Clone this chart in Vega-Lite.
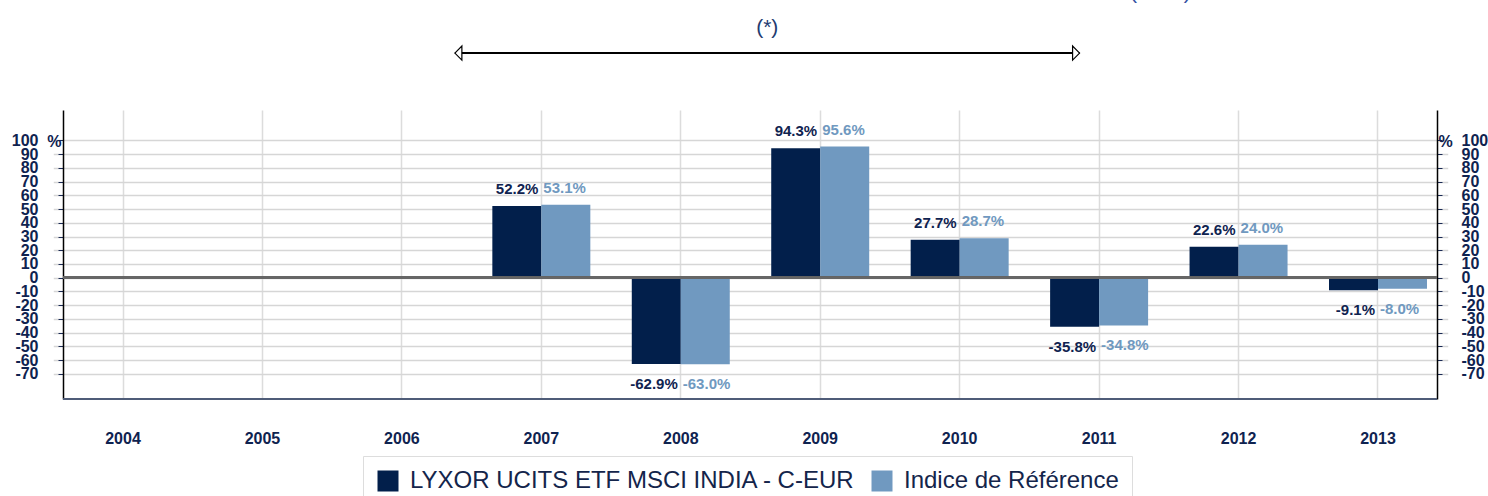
{
  "$schema": "https://vega.github.io/schema/vega-lite/v6.json",
  "width": 1374,
  "height": 289,
  "autosize": {"type": "none"},
  "padding": {"left": 63, "top": 110, "right": 51, "bottom": 97},
  "background": "#ffffff",
  "config": {
    "view": {"stroke": null},
    "font": "Liberation Sans"
  },
  "datasets": {
    "returns": [
      {"year": "2007", "series": "LYXOR UCITS ETF MSCI INDIA - C-EUR", "value": 52.2},
      {"year": "2007", "series": "Indice de Référence", "value": 53.1},
      {"year": "2008", "series": "LYXOR UCITS ETF MSCI INDIA - C-EUR", "value": -62.9},
      {"year": "2008", "series": "Indice de Référence", "value": -63.0},
      {"year": "2009", "series": "LYXOR UCITS ETF MSCI INDIA - C-EUR", "value": 94.3},
      {"year": "2009", "series": "Indice de Référence", "value": 95.6},
      {"year": "2010", "series": "LYXOR UCITS ETF MSCI INDIA - C-EUR", "value": 27.7},
      {"year": "2010", "series": "Indice de Référence", "value": 28.7},
      {"year": "2011", "series": "LYXOR UCITS ETF MSCI INDIA - C-EUR", "value": -35.8},
      {"year": "2011", "series": "Indice de Référence", "value": -34.8},
      {"year": "2012", "series": "LYXOR UCITS ETF MSCI INDIA - C-EUR", "value": 22.6},
      {"year": "2012", "series": "Indice de Référence", "value": 24.0},
      {"year": "2013", "series": "LYXOR UCITS ETF MSCI INDIA - C-EUR", "value": -9.1},
      {"year": "2013", "series": "Indice de Référence", "value": -8.0}
    ],
    "arrow": [{"start": 2006.38, "end": 2010.86, "level": 163.7}],
    "notes": [
      {"pos": 2008.62, "level": 182, "text": "(*)", "kind": "star"},
      {"pos": 2011.44, "level": 203, "text": "(2013)", "kind": "cut"}
    ]
  },
  "resolve": {"scale": {"x": "independent"}, "axis": {"x": "independent", "y": "independent"}},
  "layer": [
    {
      "data": {"name": "returns"},
      "transform": [{"calculate": "(datum.value < 0 ? '-' : '') + format(abs(datum.value), '.1f') + '%'", "as": "label"}],
      "resolve": {"axis": {"y": "independent"}},
      "layer": [
        {
          "mark": {"type": "bar"},
          "encoding": {
            "x": {
              "field": "year", "type": "nominal",
              "scale": {"domain": ["2004","2005","2006","2007","2008","2009","2010","2011","2012","2013"], "range": [-9.72, 1384.72], "paddingInner": 0, "paddingOuter": 0},
              "axis": {"title": null, "domain": false, "ticks": false, "labelAngle": 0, "labelFontSize": 16, "labelFontWeight": "bold", "labelColor": "#0f2350", "labelPadding": 31, "grid": true, "gridColor": "#dcdcdc", "gridWidth": 1.5, "bandPosition": 0.5}
            },
            "xOffset": {
              "field": "series", "type": "nominal",
              "scale": {"domain": ["LYXOR UCITS ETF MSCI INDIA - C-EUR", "Indice de Référence"], "paddingInner": 0, "paddingOuter": 0.423}
            },
            "y": {
              "field": "value", "type": "quantitative",
              "scale": {"domain": [-88.4, 122.2], "nice": false, "zero": false},
              "axis": {"title": "%", "titleAngle": 0, "titleAlign": "right", "titleBaseline": "middle", "titleX": -2, "titleY": 31, "titleFontSize": 16, "titleFontWeight": "bold", "titleColor": "#0f2350", "values": [-70,-60,-50,-40,-30,-20,-10,0,10,20,30,40,50,60,70,80,90,100], "labelExpr": "'' + datum.value", "labelFontSize": 16, "labelFontWeight": "bold", "labelColor": "#0f2350", "labelPadding": 20, "tickSize": 5, "tickColor": "#1a2a55", "domainColor": "#000000", "domainWidth": 1.5, "grid": true, "gridColor": "#d6d6d6", "gridWidth": 1.5, "labelOverlap": false, "labelBound": false, "labelFlush": false}
            },
            "color": {
              "field": "series", "type": "nominal",
              "scale": {"domain": ["LYXOR UCITS ETF MSCI INDIA - C-EUR", "Indice de Référence"], "range": ["#021f4b", "#7099c0"]},
              "legend": {"orient": "none", "legendX": 300, "legendY": 346, "direction": "horizontal", "title": null, "symbolType": "square", "symbolSize": 441, "symbolStrokeWidth": 0, "symbolOpacity": 1, "labelFont": "Liberation Sans", "labelFontSize": 24, "labelColor": "#14254b", "labelOffset": 10, "columnPadding": 15, "padding": 13, "strokeColor": "#dddddd", "labelLimit": 0}
            }
          }
        },
        {
          "transform": [{"filter": "datum.series == 'LYXOR UCITS ETF MSCI INDIA - C-EUR' && datum.value >= 0"}],
          "mark": {"type": "text", "align": "right", "baseline": "middle", "dx": -3, "dy": -17, "fontSize": 15, "fontWeight": "bold", "color": "#0f2350"},
          "encoding": {
            "x": {"field": "year", "type": "nominal", "scale": {"domain": ["2004","2005","2006","2007","2008","2009","2010","2011","2012","2013"], "range": [-9.72, 1384.72], "paddingInner": 0, "paddingOuter": 0}},
            "y": {"field": "value", "type": "quantitative", "scale": {"domain": [-88.4, 122.2], "nice": false, "zero": false}, "axis": null},
            "text": {"field": "label"}
          }
        },
        {
          "transform": [{"filter": "datum.series == 'LYXOR UCITS ETF MSCI INDIA - C-EUR' && datum.value < 0"}],
          "mark": {"type": "text", "align": "right", "baseline": "middle", "dx": -3, "dy": 20, "fontSize": 15, "fontWeight": "bold", "color": "#0f2350"},
          "encoding": {
            "x": {"field": "year", "type": "nominal", "scale": {"domain": ["2004","2005","2006","2007","2008","2009","2010","2011","2012","2013"], "range": [-9.72, 1384.72], "paddingInner": 0, "paddingOuter": 0}},
            "y": {"field": "value", "type": "quantitative", "scale": {"domain": [-88.4, 122.2], "nice": false, "zero": false}, "axis": null},
            "text": {"field": "label"}
          }
        },
        {
          "transform": [{"filter": "datum.series == 'Indice de Référence' && datum.value >= 0"}],
          "mark": {"type": "text", "align": "left", "baseline": "middle", "dx": 2, "dy": -17, "fontSize": 15, "fontWeight": "bold", "color": "#7099c0"},
          "encoding": {
            "x": {"field": "year", "type": "nominal", "scale": {"domain": ["2004","2005","2006","2007","2008","2009","2010","2011","2012","2013"], "range": [-9.72, 1384.72], "paddingInner": 0, "paddingOuter": 0}},
            "y": {"field": "value", "type": "quantitative", "scale": {"domain": [-88.4, 122.2], "nice": false, "zero": false}, "axis": null},
            "text": {"field": "label"}
          }
        },
        {
          "transform": [{"filter": "datum.series == 'Indice de Référence' && datum.value < 0"}],
          "mark": {"type": "text", "align": "left", "baseline": "middle", "dx": 2, "dy": 20, "fontSize": 15, "fontWeight": "bold", "color": "#7099c0"},
          "encoding": {
            "x": {"field": "year", "type": "nominal", "scale": {"domain": ["2004","2005","2006","2007","2008","2009","2010","2011","2012","2013"], "range": [-9.72, 1384.72], "paddingInner": 0, "paddingOuter": 0}},
            "y": {"field": "value", "type": "quantitative", "scale": {"domain": [-88.4, 122.2], "nice": false, "zero": false}, "axis": null},
            "text": {"field": "label"}
          }
        },
        {
          "mark": {"type": "rule", "color": "#666666", "strokeWidth": 1.8},
          "encoding": {
            "y": {
              "datum": 0, "type": "quantitative",
              "scale": {"domain": [-88.4, 122.2], "nice": false, "zero": false},
              "axis": {"orient": "right", "title": "%", "titleAngle": 0, "titleAlign": "left", "titleBaseline": "middle", "titleX": 1, "titleY": 31, "titleFontSize": 16, "titleFontWeight": "bold", "titleColor": "#0f2350", "values": [-70,-60,-50,-40,-30,-20,-10,0,10,20,30,40,50,60,70,80,90,100], "labelExpr": "'' + datum.value", "labelFontSize": 16, "labelFontWeight": "bold", "labelColor": "#0f2350", "labelPadding": 19, "tickSize": 5, "tickColor": "#1a2a55", "domainColor": "#000000", "domainWidth": 1.5, "grid": false, "labelOverlap": false, "labelBound": false, "labelFlush": false}
            }
          }
        },
        {
          "mark": {"type": "rule", "color": "#4f5d78", "strokeWidth": 1.5},
          "encoding": {
            "y": {"datum": -88.4, "type": "quantitative", "scale": {"domain": [-88.4, 122.2], "nice": false, "zero": false}, "axis": null}
          }
        }
      ]
    },
    {
      "layer": [
        {
          "data": {"name": "arrow"},
          "mark": {"type": "rule", "color": "#000000", "strokeWidth": 2},
          "encoding": {
            "x": {"field": "start", "type": "quantitative", "scale": {"domain": [2003.5, 2013.5], "range": [-9.72, 1384.72], "nice": false, "zero": false}, "axis": null},
            "x2": {"field": "end"},
            "y": {"field": "level", "type": "quantitative", "scale": {"domain": [-88.4, 122.2], "nice": false, "zero": false}, "axis": null}
          }
        },
        {
          "data": {"name": "arrow"},
          "mark": {"type": "point", "shape": "M0,0L1,-1L1,1Z", "size": 196, "filled": false, "fill": "#ffffff", "stroke": "#000000", "strokeWidth": 1.2, "opacity": 1},
          "encoding": {
            "x": {"field": "start", "type": "quantitative", "scale": {"domain": [2003.5, 2013.5], "range": [-9.72, 1384.72], "nice": false, "zero": false}, "axis": null},
            "y": {"field": "level", "type": "quantitative", "scale": {"domain": [-88.4, 122.2], "nice": false, "zero": false}, "axis": null}
          }
        },
        {
          "data": {"name": "arrow"},
          "mark": {"type": "point", "shape": "M0,0L-1,-1L-1,1Z", "size": 196, "filled": false, "fill": "#ffffff", "stroke": "#000000", "strokeWidth": 1.2, "opacity": 1},
          "encoding": {
            "x": {"field": "end", "type": "quantitative", "scale": {"domain": [2003.5, 2013.5], "range": [-9.72, 1384.72], "nice": false, "zero": false}, "axis": null},
            "y": {"field": "level", "type": "quantitative", "scale": {"domain": [-88.4, 122.2], "nice": false, "zero": false}, "axis": null}
          }
        },
        {
          "data": {"name": "notes"},
          "transform": [{"filter": "datum.kind == 'star'"}],
          "mark": {"type": "text", "align": "center", "baseline": "middle", "fontSize": 21, "color": "#233b70"},
          "encoding": {
            "x": {"field": "pos", "type": "quantitative", "scale": {"domain": [2003.5, 2013.5], "range": [-9.72, 1384.72], "nice": false, "zero": false}, "axis": null},
            "y": {"field": "level", "type": "quantitative", "scale": {"domain": [-88.4, 122.2], "nice": false, "zero": false}, "axis": null},
            "text": {"field": "text"}
          }
        },
        {
          "data": {"name": "notes"},
          "transform": [{"filter": "datum.kind == 'cut'"}],
          "mark": {"type": "text", "align": "center", "baseline": "alphabetic", "fontSize": 21, "color": "#3452a3"},
          "encoding": {
            "x": {"field": "pos", "type": "quantitative", "scale": {"domain": [2003.5, 2013.5], "range": [-9.72, 1384.72], "nice": false, "zero": false}, "axis": null},
            "y": {"field": "level", "type": "quantitative", "scale": {"domain": [-88.4, 122.2], "nice": false, "zero": false}, "axis": null},
            "text": {"field": "text"}
          }
        }
      ]
    }
  ]
}
